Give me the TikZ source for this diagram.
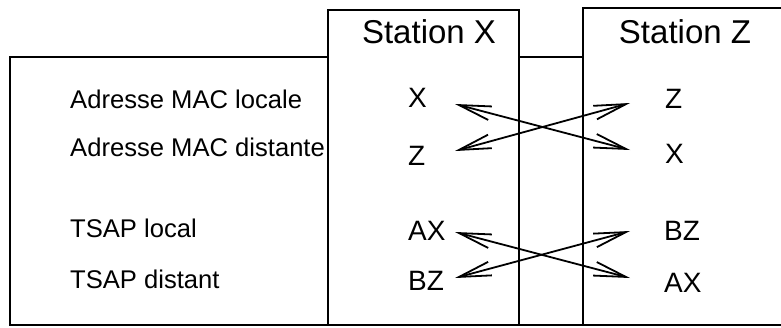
\documentclass[tikz,border=0pt]{standalone}
\usepackage{fontspec}
\setmainfont{Liberation Sans}
\usetikzlibrary{arrows.meta}

\begin{document}
\begin{tikzpicture}[x=1pt, y=-1pt]
			\tikzset{titre/.style={inner sep=0, anchor=base, font=\fontsize{33}{36}\selectfont},
				libelle/.style={inner sep=0, anchor=base west, font=\fontsize{25.6}{28}\selectfont},
				adr/.style={inner sep=0, anchor=base west, font=\fontsize{28}{30}\selectfont},
				cadre/.style={line width=2pt},
				fleche/.style={{Straight Barb[length=32pt, width=14pt]}-{Straight Barb[length=32pt, width=14pt]}, line width=1.8pt}};

			\useasboundingbox (0,0) rectangle (781,327);

			% cadres
			\draw[cadre] (781,325) -- (10,325) -- (10,57) -- (328,57);
			\draw[cadre] (519,57) -- (583,57);
			\draw[cadre] (328,325) -- (328,10) -- (519,10) -- (519,325);
			\draw[cadre] (583,325) -- (583,8) -- (781,8);

			\node[titre] (sx) at (429,43) {Station X};
			\node[titre] (sz) at (685,43) {Station Z};

			\node[libelle] (lmac1)  at ( 70,108) {Adresse MAC locale};
			\node[libelle] (lmac2)  at ( 70,156) {Adresse MAC distante};
			\node[libelle] (ltsap1) at ( 70,237) {TSAP local};
			\node[libelle] (ltsap2) at ( 70,288) {TSAP distant};

			\node[adr] (xmac1)  at (408,107) {X};
			\node[adr] (xmac2)  at (408,165) {Z};
			\node[adr] (xtsap1) at (408,240) {AX};
			\node[adr] (xtsap2) at (408,290) {BZ};

			\node[adr] (zmac1)  at (665,108) {Z};
			\node[adr] (zmac2)  at (665,163) {X};
			\node[adr] (ztsap1) at (664,240) {BZ};
			\node[adr] (ztsap2) at (664,292) {AX};

			% bouts des fleches
			\coordinate (g1) at (455,104);
			\coordinate (g2) at (455,151);
			\coordinate (g3) at (455,232);
			\coordinate (g4) at (455,278);
			\coordinate (d1) at (630,103);
			\coordinate (d2) at (630,150);
			\coordinate (d3) at (630,231);
			\coordinate (d4) at (630,278);

			\draw[fleche] (g1) -- (d2);
			\draw[fleche] (g2) -- (d1);
			\draw[fleche] (g3) -- (d4);
			\draw[fleche] (g4) -- (d3);

		\end{tikzpicture}
\end{document}
